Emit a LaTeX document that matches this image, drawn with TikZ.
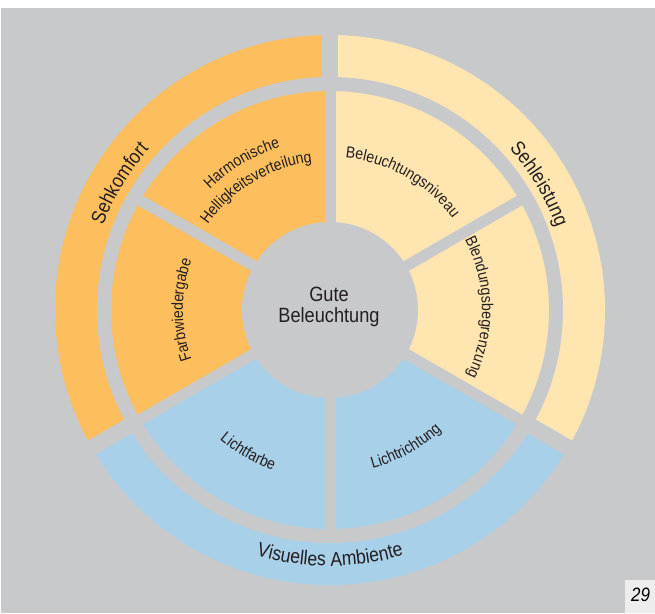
\documentclass[tikz,border=0pt]{standalone}
\usepackage{fontspec}
\setmainfont{Liberation Sans}[FakeStretch=0.88]
\usepackage{xcolor}
\usetikzlibrary{decorations.text}

\definecolor{bgGrey}{HTML}{C8C9CB}
\definecolor{komfort}{HTML}{FDBF5E}
\definecolor{leistung}{HTML}{FFE5B0}
\definecolor{ambiente}{HTML}{A8D0E9}
\definecolor{schrift}{HTML}{231F20}
\definecolor{seitenfeld}{HTML}{EDEDED}

\newcommand\innerfont{\fontsize{12}{14}\selectfont\color{schrift}}
\newcommand\ringfont{\fontsize{15}{18}\selectfont\color{schrift}}

\tikzset{
  gap/.style={draw=bgGrey, line width=8.25pt},
  wide gap/.style={draw=bgGrey, line width=12pt},
  inner label/.style={decorate, decoration={text along path, text align=center, text={|\innerfont|#1}}},
  ring label/.style={decorate, decoration={text along path, text align=center, text={|\ringfont|#1}}}
}

\begin{document}
\begin{tikzpicture}[x=0.75pt, y=0.75pt]
\useasboundingbox (-330,-303) rectangle (325,310);
\fill[white] (-330,-303) rectangle (325,310);
\fill[bgGrey] (-329,-303) rectangle (325,302);

% three groups
\fill[komfort] (0,0) -- (90:275) arc[start angle=90, end angle=210, radius=275] -- cycle;
\fill[leistung] (0,0) -- (-30:275) arc[start angle=-30, end angle=90, radius=275] -- cycle;
\fill[ambiente] (0,0) -- (210:275) arc[start angle=210, end angle=330, radius=275] -- cycle;

% gaps
\draw[bgGrey, line width=10.5pt] (0,0) circle (226);
\draw[gap] (0,0) -- (90:226);
\draw[gap] (0,0) -- (30:226);
\draw[gap] (0,0) -- (-30:226);
\draw[gap] (0,0) -- (-90:226);
\draw[gap] (0,0) -- (210:226);
\draw[gap] (0,0) -- (150:226);
\draw[wide gap] (90:219) -- (90:282);
\draw[wide gap] (210:219) -- (210:282);
\draw[wide gap] (-30:219) -- (-30:282);

\fill[bgGrey] (0,0) circle (88);
\node[align=center, text=schrift, font=\fontsize{15.5}{15.75}\selectfont, inner sep=0pt] (gute) at (-1,3) {Gute\\Beleuchtung};

% inner ring
\path[inner label=Harmonische] (161:170) arc[start angle=161, end angle=81, radius=170];
\path[inner label=Helligkeitsverteilung] (161:149) arc[start angle=161, end angle=81, radius=149];
\path[inner label=Beleuchtungsniveau] (100:153) arc[start angle=100, end angle=21, radius=153];
\path[inner label=Blendungsbegrenzung] (41:152) arc[start angle=41, end angle=-39, radius=152];
\path[inner label=Farbwiedergabe] (220:147) arc[start angle=220, end angle=140, radius=147];
\path[inner label=Lichtfarbe] (200:170) arc[start angle=200, end angle=280, radius=170];
\path[inner label=Lichtrichtung] (259:164) arc[start angle=259, end angle=339, radius=164];

% outer ring
\path[ring label=Sehkomfort] (179:242) arc[start angle=179, end angle=119, radius=242];
\path[ring label=Sehleistung] (61:241) arc[start angle=61, end angle=1, radius=241];
\path[ring label=Visuelles Ambiente] (240:256) arc[start angle=240, end angle=300, radius=256];

\fill[seitenfeld] (295,-270) rectangle (325,-303);
\node[font=\fontsize{14.5}{16}\selectfont\itshape, text=black] (seite) at (310.5,-285) {29};
\end{tikzpicture}
\end{document}
